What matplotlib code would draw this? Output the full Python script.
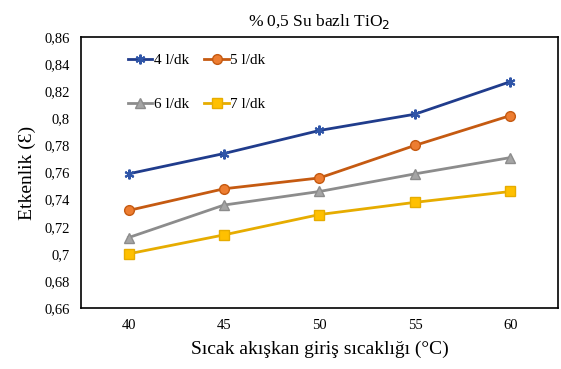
import matplotlib
matplotlib.use("Agg")
import matplotlib.pyplot as plt

# data
temps = ["40", "45", "50", "55", "60"]
eff_4 = [0.759, 0.774, 0.791, 0.803, 0.827]
eff_5 = [0.732, 0.748, 0.756, 0.780, 0.802]
eff_6 = [0.712, 0.736, 0.746, 0.759, 0.771]
eff_7 = [0.700, 0.714, 0.729, 0.738, 0.746]
labels = ["4 l/dk", "5 l/dk", "6 l/dk", "7 l/dk"]
yticks = [0.66, 0.68, 0.70, 0.72, 0.74, 0.76, 0.78, 0.80, 0.82, 0.84, 0.86]

plt.rcParams['font.family'] = ['Liberation Serif', 'DejaVu Serif']

fig = plt.figure(figsize=(5.61, 3.69), dpi=100)
ax = fig.add_axes([0.144, 0.165, 0.851, 0.735])

x = range(len(temps))
styles = [
    dict(color='#203C8C', marker=(6, 2, 0), ms=7, mfc='#2F55A8', mec='#2F55A8', mew=1.5),
    dict(color='#C55A11', marker='o', ms=7, mfc='#ED7D31', mec='#C55A11', mew=1),
    dict(color='#8C8C8C', marker='^', ms=7, mfc='#A5A5A5', mec='#8C8C8C', mew=1),
    dict(color='#E6AC00', marker='s', ms=6.5, mfc='#FFC000', mec='#E6AC00', mew=1),
]
lines = []
for vals, lab, st in zip([eff_4, eff_5, eff_6, eff_7], labels, styles):
    ln, = ax.plot(x, vals, lw=2, label=lab, **st)
    lines.append(ln)

ax.set_xlim(-0.5, len(temps) - 0.5)
ax.set_ylim(0.66, 0.86)
ax.set_xticks(list(x))
ax.set_xticklabels(temps)
ax.set_yticks(yticks)
ax.set_yticklabels([("%g" % v).replace('.', ',') for v in yticks])
ax.tick_params(length=0, labelsize=10.5, pad=8)
for sp in ax.spines.values():
    sp.set_color('black')
    sp.set_linewidth(1.2)

ax.set_title("% 0,5 Su bazlı TiO$_2$", fontsize=12.5, pad=8)
ax.set_ylabel("Etkenlik (Ɛ)", fontsize=14, labelpad=6)
ax.set_xlabel("Sıcak akışkan giriş sıcaklığı (°C)", fontsize=14, labelpad=6)

# legend fills by column, so reorder to get 4,5 on the first row
order = [0, 2, 1, 3]
ax.legend([lines[i] for i in order], [labels[i] for i in order],
          loc='upper left', bbox_to_anchor=(0.07, 0.99), ncol=2, frameon=False,
          handlelength=1.6, handletextpad=0.1, columnspacing=1.0,
          labelspacing=2.0, fontsize=11)

fig.savefig("out.png", dpi=100)
